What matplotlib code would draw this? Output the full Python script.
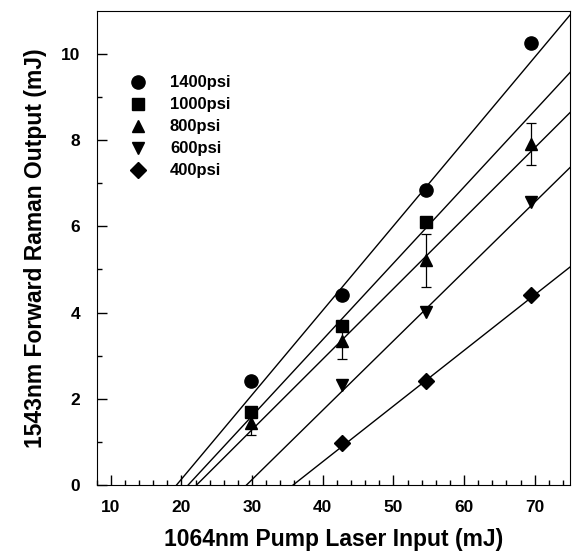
import numpy as np
import matplotlib
matplotlib.use('Agg')
import matplotlib.pyplot as plt

#data
pressures = ['1400psi', '1000psi', '800psi', '600psi', '400psi']
markers = ['o', 's', '^', 'v', 'D']
marker_sizes = [9.5, 8, 9, 9, 8]

pump_1400 = [29.8, 42.7, 54.6, 69.5]
raman_1400 = [2.41, 4.40, 6.83, 10.25]

pump_1000 = [29.8, 42.7, 54.6]
raman_1000 = [1.70, 3.70, 6.11]

pump_800 = [29.8, 42.7, 54.6, 69.5]
raman_800 = [1.43, 3.33, 5.21, 7.91]
err_800 = [0.27, 0.41, 0.61, 0.49]

pump_600 = [42.7, 54.6, 69.5]
raman_600 = [2.31, 4.01, 6.56]

pump_400 = [42.7, 54.6, 69.5]
raman_400 = [0.97, 2.41, 4.40]

#linear fits: slope (mJ/mJ) and threshold (x at zero output)
fit_slope = [0.1956, 0.1769, 0.1633, 0.1607, 0.1289]
fit_threshold = [19.29, 20.93, 22.12, 29.19, 35.78]

pump = [pump_1400, pump_1000, pump_800, pump_600, pump_400]
raman = [raman_1400, raman_1000, raman_800, raman_600, raman_400]

plt.rcParams['font.family'] = ['Liberation Sans', 'DejaVu Sans']
plt.rcParams['font.weight'] = 'bold'

fig = plt.figure(figsize=(5.72, 5.57), dpi=100)
ax = fig.add_axes([0.169, 0.129, 0.8275, 0.852])

x_end = 80
for i in range(len(pressures)):
    xs = np.array([fit_threshold[i], x_end])
    ax.plot(xs, fit_slope[i] * (xs - fit_threshold[i]), color='black', lw=1.0)
    ax.plot(pump[i], raman[i], linestyle='none', marker=markers[i],
            markersize=marker_sizes[i], color='black', label=pressures[i])

ax.errorbar(pump_800, raman_800, yerr=err_800, fmt='none', ecolor='black',
            elinewidth=0.9, capsize=3.5, capthick=0.9)

ax.set_xlim(8, 75)
ax.set_ylim(0, 11)
ax.set_xticks(range(10, 71, 10))
ax.set_xticks(range(8, 75, 2), minor=True)
ax.set_yticks(range(0, 11, 2))
ax.set_yticks(range(1, 11, 2), minor=True)
ax.tick_params(which='both', direction='in', labelsize=12.5)
ax.tick_params(axis='x', pad=11)
ax.tick_params(axis='y', pad=12)
ax.tick_params(which='major', length=7.5, width=1)
ax.tick_params(which='minor', length=3.8, width=1)
for lab in ax.get_xticklabels() + ax.get_yticklabels():
    lab.set_fontweight('bold')

ax.set_xlabel('1064nm Pump Laser Input (mJ)', fontsize=16.5, fontweight='bold', labelpad=9)
ax.set_ylabel('1543nm Forward Raman Output (mJ)', fontsize=16.5, fontweight='bold', labelpad=10)

ax.legend(loc='upper left', bbox_to_anchor=(0.035, 0.895), frameon=False,
          fontsize=12, handletextpad=1.3, labelspacing=0.42, markerfirst=True,
          handlelength=1.2)

fig.savefig('out.png', dpi=100)
